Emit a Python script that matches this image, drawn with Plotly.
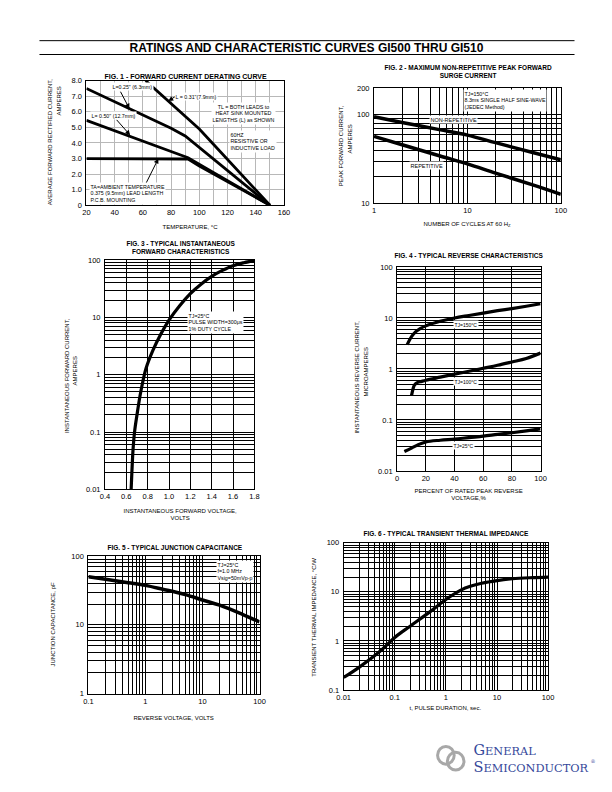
import numpy as np
import plotly.graph_objects as go

# ------------------------------------------------------------------ data
# Fig 1 - forward current derating curve (temperature degC, amperes)
fig1_temp_79 = [62, 70, 80, 90, 100, 110, 120, 130, 140, 150]
fig1_amp_79 = [8.0, 7.35, 6.55, 5.75, 4.9, 3.92, 2.94, 1.96, 0.98, 0.0]
fig1_temp_63 = [20, 40, 60, 80, 90, 100, 120, 140, 150]
fig1_amp_63 = [7.5, 6.65, 5.8, 4.95, 4.45, 3.72, 2.23, 0.74, 0.0]
fig1_temp_127 = [20, 40, 60, 80, 92, 100, 120, 140, 150]
fig1_amp_127 = [5.45, 4.8, 4.15, 3.45, 3.05, 2.62, 1.58, 0.53, 0.0]
fig1_temp_amb = [20, 40, 60, 80, 92, 100, 120, 140, 150]
fig1_amp_amb = [3.0, 3.0, 3.0, 3.0, 2.97, 2.52, 1.5, 0.5, 0.0]
fig1_xticks = ["20", "40", "60", "80", "100", "120", "140", "160"]
fig1_yticks = ["0", "1.0", "2.0", "3.0", "4.0", "5.0", "6.0", "7.0", "8.0"]

# Fig 2 - peak forward surge current (cycles, amperes)
fig2_cycles = [1, 2, 5, 10, 20, 50, 100]
fig2_nonrep = [95, 82, 68, 59, 48.5, 37.5, 31]
fig2_rep = [57, 46, 34.5, 28, 22, 16.2, 12.7]
fig2_xticks = ["1", "10", "100"]
fig2_yticks = ["10", "100", "200"]

# Fig 3 - instantaneous forward characteristics (volts, amperes)
fig3_volts = [0.645, 0.652, 0.663, 0.677, 0.70, 0.735, 0.785, 0.85, 0.92, 1.0,
              1.1, 1.2, 1.3, 1.4, 1.5, 1.6, 1.7, 1.8]
fig3_amps = [0.01, 0.02, 0.05, 0.1, 0.2, 0.5, 1.3, 2.7, 5.0, 9.0,
             16, 26, 38, 52, 66, 80, 90, 98]
fig3_xticks = ["0.4", "0.6", "0.8", "1.0", "1.2", "1.4", "1.6", "1.8"]
fig3_yticks = ["0.01", "0.1", "1", "10", "100"]

# Fig 4 - reverse characteristics (% of rated voltage, microamperes)
fig4_pct150 = [7, 10, 13, 16, 20, 30, 40, 50, 60, 70, 80, 90, 100]
fig4_ir150 = [3.0, 4.3, 5.4, 6.2, 7.0, 8.6, 10.0, 11.2, 12.5, 13.9, 15.3, 17.0, 19.0]
fig4_pct100 = [10, 11, 12, 14, 17, 20, 30, 40, 50, 60, 70, 80, 90, 100]
fig4_ir100 = [0.30, 0.40, 0.48, 0.54, 0.57, 0.60, 0.69, 0.79, 0.90, 1.03, 1.18, 1.37, 1.6, 2.05]
fig4_pct25 = [5, 10, 15, 20, 30, 40, 50, 60, 70, 80, 90, 100]
fig4_ir25 = [0.024, 0.028, 0.033, 0.037, 0.040, 0.042, 0.045, 0.048, 0.052, 0.056, 0.061, 0.067]
fig4_xticks = ["0", "20", "40", "60", "80", "100"]
fig4_yticks = ["0.01", "0.1", "1", "10", "100"]

# Fig 5 - junction capacitance (volts, pF)
fig5_vr = [0.1, 0.2, 0.5, 1, 2, 5, 10, 20, 50, 100]
fig5_cj = [50, 46, 41, 37.5, 33, 27.5, 23, 19.3, 14.2, 11]
fig5_xticks = ["0.1", "1", "10", "100"]
fig5_yticks = ["1", "10", "100"]

# Fig 6 - transient thermal impedance (sec, degC/W)
fig6_t = [0.01, 0.02, 0.05, 0.1, 0.2, 0.5, 1, 2, 3, 5, 10, 20, 50, 100]
fig6_z = [0.18, 0.29, 0.6, 1.18, 2.0, 4.0, 7.0, 11, 13, 15, 17, 18.5, 19.5, 20]
fig6_xticks = ["0.01", "0.1", "1", "10", "100"]
fig6_yticks = ["0.1", "1", "10", "100"]

# ------------------------------------------------------------------ helpers
# The page body has an 8px margin, so the figure is drawn 16px smaller and
# every page-pixel position is shifted by that margin.
PAGE_W, PAGE_H = 612, 792
OFF = 8
W, H = PAGE_W - 2 * OFF, PAGE_H - 2 * OFF
FONT = "Liberation Sans"


def fx(px):
    return (px - OFF) / W


def fy(py):
    return 1 - (py - OFF) / H


def lin_grid(lo, hi, step):
    n = int(round((hi - lo) / step))
    return [round(lo + i * step, 6) for i in range(n + 1)]


def log_grid(lo, hi):
    vals = []
    e = int(np.floor(np.log10(lo) + 1e-9))
    while 10.0 ** e <= hi * 1.0001:
        for m in range(1, 10):
            v = float(f"{m}e{e}")
            if lo * 0.9999 <= v <= hi * 1.0001:
                vals.append(v)
        e += 1
    return vals


def texts_for(vals, labels):
    out = []
    for v in vals:
        t = ""
        for lab in labels:
            if abs(v - float(lab)) < 1e-9 * max(1.0, abs(v)):
                t = lab
        out.append(t)
    return out


def axis(lo_px, hi_px, rng, kind, gridvals, labels, anchor, is_x,
         gridcolor="black", gridwidth=0.7):
    dom = [fx(lo_px), fx(hi_px)] if is_x else [fy(hi_px), fy(lo_px)]
    d = dict(domain=dom, range=rng, type=kind, tickmode="array",
             tickvals=gridvals, ticktext=texts_for(gridvals, labels),
             showgrid=True, gridcolor=gridcolor, gridwidth=gridwidth,
             showline=True, mirror=True, linecolor="black", linewidth=1,
             ticks="", zeroline=False, anchor=anchor, fixedrange=True,
             tickfont=dict(size=7.5, family=FONT, color="black"))
    if not is_x:
        d["ticklabelstandoff"] = 2
    return d


annotations = []


def txt(px, py, text, size=5.5, bold=False, xanchor="center", align="center",
        bg=None, angle=0, family=FONT, color="black"):
    if bold:
        text = "<b>" + text.replace("<br>", "</b><br><b>") + "</b>"
    a = dict(x=fx(px), y=fy(py), xref="paper", yref="paper", text=text,
             showarrow=False, xanchor=xanchor, yanchor="middle", align=align,
             textangle=angle, font=dict(size=size, family=family, color=color),
             borderpad=0.5)
    if bg:
        a["bgcolor"] = bg
    annotations.append(a)


def arrow(xd, yd, ax, ay, xref="x", yref="y"):
    annotations.append(dict(x=xd, y=yd, xref=xref, yref=yref, ax=ax, ay=ay,
                            axref="pixel", ayref="pixel", text=" ",
                            font=dict(size=1),
                            showarrow=True, arrowhead=2, arrowsize=1.0,
                            arrowwidth=1, arrowcolor="black", standoff=0))


fig = go.Figure()


def curve(x, y, xa, ya, width=3.2, shape="spline"):
    fig.add_trace(go.Scatter(x=x, y=y, xaxis=xa, yaxis=ya, mode="lines",
                             line=dict(color="black", width=width, shape=shape),
                             hoverinfo="skip"))


# ------------------------------------------------------------------ traces
curve(fig1_temp_79, fig1_amp_79, "x", "y", 2.8, "linear")
curve(fig1_temp_63, fig1_amp_63, "x", "y", 2.8, "linear")
curve(fig1_temp_127, fig1_amp_127, "x", "y", 2.8, "linear")
curve(fig1_temp_amb, fig1_amp_amb, "x", "y", 2.8, "linear")

curve(fig2_cycles, fig2_nonrep, "x2", "y2", 3.5)
curve(fig2_cycles, fig2_rep, "x2", "y2", 3.5)

curve(fig3_volts, fig3_amps, "x3", "y3", 3.2)

curve(fig4_pct150, fig4_ir150, "x4", "y4", 3.2)
curve(fig4_pct100, fig4_ir100, "x4", "y4", 3.2)
curve(fig4_pct25, fig4_ir25, "x4", "y4", 3.2)

curve(fig5_vr, fig5_cj, "x5", "y5", 3.5)

curve(fig6_t, fig6_z, "x6", "y6", 3.2)

layout = dict(width=W, height=H, margin=dict(l=0, r=0, t=0, b=0),
              paper_bgcolor="white", plot_bgcolor="white", showlegend=False,
              font=dict(family=FONT, color="black"))

# axes (page-pixel positions of each plot frame)
layout["xaxis"] = axis(81, 283, [20, 160], "linear", lin_grid(20, 160, 10),
                       fig1_xticks, "y", True, gridcolor="#b8b8b8", gridwidth=0.5)
layout["yaxis"] = axis(77.5, 203.5, [0, 8], "linear", lin_grid(0, 8, 1),
                       fig1_yticks, "x", False, gridcolor="#b8b8b8", gridwidth=0.5)

layout["xaxis2"] = axis(375, 566, [0, 2], "log", log_grid(1, 100),
                        fig2_xticks, "y2", True)
layout["yaxis2"] = axis(85, 201.7, [1, np.log10(200)], "log", log_grid(10, 200),
                        fig2_yticks, "x2", False)

layout["xaxis3"] = axis(100, 252.7, [0.4, 1.8], "linear", lin_grid(0.4, 1.8, 0.2),
                        fig3_xticks, "y3", True)
layout["yaxis3"] = axis(259, 491, [-2, 2], "log", log_grid(0.01, 100),
                        fig3_yticks, "x3", False)

layout["xaxis4"] = axis(398.7, 545.3, [0, 100], "linear", lin_grid(0, 100, 20),
                        fig4_xticks, "y4", True)
layout["yaxis4"] = axis(266, 472.3, [-2, 2], "log", log_grid(0.01, 100),
                        fig4_yticks, "x4", False)

layout["xaxis5"] = axis(83, 258, [-1, 2], "log", log_grid(0.1, 100),
                        fig5_xticks, "y5", True)
layout["yaxis5"] = axis(558.5, 697.5, [0, 2], "log", log_grid(1, 100),
                        fig5_yticks, "x5", False)

layout["xaxis6"] = axis(344, 553, [-2, 2], "log", log_grid(0.01, 100),
                        fig6_xticks, "y6", True)
layout["yaxis6"] = axis(545, 694, [-1, 2], "log", log_grid(0.1, 100),
                        fig6_yticks, "x6", False)

# ------------------------------------------------------------------ header
txt(306, 44, "RATINGS AND CHARACTERISTIC CURVES GI500 THRU GI510", size=12, bold=True)
shapes = [
    dict(type="line", xref="paper", yref="paper", x0=fx(33), x1=fx(580),
         y0=fy(37), y1=fy(37), line=dict(color="black", width=1)),
    dict(type="line", xref="paper", yref="paper", x0=fx(33), x1=fx(580),
         y0=fy(51), y1=fy(51), line=dict(color="black", width=1)),
]

# ------------------------------------------------------------------ Fig 1 text
txt(183, 73, "FIG. 1 - FORWARD CURRENT DERATING CURVE", size=7, bold=True)
txt(44, 139, "AVERAGE FORWARD RECTIFIED CURRENT,", size=6, angle=-90)
txt(53, 98, "AMPERES", size=6, angle=-90)
txt(187, 225, "TEMPERATURE, °C", size=6)
txt(106, 83.5, "L=0.25\" (6.3mm)", size=5.3, xanchor="left", bg="white")
txt(171, 93, "L = 0.31\"(7.9mm)", size=5.3, xanchor="left", bg="white")
txt(242, 111, "TL = BOTH LEADS to<br>HEAT SINK MOUNTED<br>LENGTHS (L) as SHOWN",
    size=5.3, bg="white")
txt(227, 139, "60HZ<br>RESISTIVE OR<br>INDUCTIVE LOAD", size=5.3,
    xanchor="left", align="left", bg="white")
txt(85, 113, "L= 0.50\" (12.7mm)", size=5.3, xanchor="left", bg="white")
txt(84, 191.5, "TA=AMBIENT TEMPERATURE<br>0.375 (9.5mm) LEAD LENGTH<br>P.C.B. MOUNTING",
    size=5.3, xanchor="left", align="left", bg="white")
arrow(50.5, 6.2, -10, -19)
arrow(78, 6.7, 8, -5)
arrow(51, 4.5, -15, -17)
arrow(71, 3.0, -13, 26)

# ------------------------------------------------------------------ Fig 2 text
txt(471, 68, "FIG. 2 - MAXIMUM NON-REPETITIVE PEAK FORWARD<br>SURGE CURRENT", size=6.5, bold=True)
txt(341.5, 143, "PEAK FORWARD CURRENT,", size=6, angle=-90)
txt(350, 137, "AMPERES", size=6, angle=-90)
txt(470, 222, "NUMBER OF CYCLES AT 60 H<sub>Z</sub>", size=6)
txt(466, 97.5, "TJ=150°C<br>8.3ms SINGLE HALF SINE-WAVE<br>(JEDEC Method)", size=5.3,
    xanchor="left", align="left", bg="white")
txt(456.5, 117, "NON-REPETITIVE", size=5.5, bg="white")
txt(429, 163.5, "REPETITIVE", size=5.5, bg="white")

# ------------------------------------------------------------------ Fig 3 text
txt(178, 245.5, "FIG. 3 - TYPICAL INSTANTANEOUS<br>FORWARD CHARACTERISTICS", size=6.5, bold=True)
txt(61, 376, "INSTANTANEOUS FORWARD CURRENT,", size=6, angle=-90)
txt(69.5, 371, "AMPERES", size=6, angle=-90)
txt(177, 516, "INSTANTANEOUS FORWARD VOLTAGE,<br>VOLTS", size=6)
txt(184, 322, "TJ=25°C<br>PULSE WIDTH=300μs<br>1% DUTY CYCLE", size=5.3,
    xanchor="left", align="left", bg="white")

# ------------------------------------------------------------------ Fig 4 text
txt(472, 254, "FIG. 4 - TYPICAL REVERSE CHARACTERISTICS", size=6.5, bold=True)
txt(358, 377, "INSTANTANEOUS REVERSE CURRENT,", size=6, angle=-90)
txt(367, 372, "MICROAMPERES", size=6, angle=-90)
txt(472, 496.5, "PERCENT OF RATED PEAK REVERSE<br>VOLTAGE,%", size=6)
txt(469, 324, "TJ=150°C", size=5, bg="white")
txt(469, 382, "TJ=100°C", size=5, bg="white")
txt(466, 447, "TJ=25°C", size=5, bg="white")

# ------------------------------------------------------------------ Fig 5 text
txt(172, 549, "FIG. 5 - TYPICAL JUNCTION CAPACITANCE", size=6.5, bold=True)
txt(47, 628, "JUNCTION CAPACITANCE, pF", size=6, angle=-90)
txt(170, 722, "REVERSE VOLTAGE, VOLTS", size=6)
txt(213, 574.5, "TJ=25°C<br>f=1.0 MHz<br>Vsig=50mVp-p", size=5.3,
    xanchor="left", align="left", bg="white")

# ------------------------------------------------------------------ Fig 6 text
txt(449, 535, "FIG. 6 - TYPICAL TRANSIENT THERMAL IMPEDANCE", size=6.5, bold=True)
txt(314, 620, "TRANSIENT THERMAL IMPEDANCE, °C/W", size=6, angle=-90)
txt(448, 712, "t, PULSE DURATION, sec.", size=6)

# ------------------------------------------------------------------ logo
BLUE = "#34479a"
txt(475, 754.5, "<span style='font-size:14.5px'>G</span>ENERAL", size=11.3,
    xanchor="left", align="left", family="DejaVu Serif", color=BLUE)
txt(475, 771.5, "<span style='font-size:14.5px'>S</span>EMICONDUCTOR", size=11.3,
    xanchor="left", align="left", family="DejaVu Serif", color=BLUE)
txt(599, 765, "®", size=5, family="DejaVu Serif", color=BLUE)
shapes += [
    dict(type="circle", xref="paper", yref="paper", x0=fx(440), x1=fx(457),
         y0=fy(769), y1=fy(751), line=dict(color="#a8a8a8", width=3)),
    dict(type="circle", xref="paper", yref="paper", x0=fx(450), x1=fx(467),
         y0=fy(775), y1=fy(757), line=dict(color="#a8a8a8", width=3)),
]

layout["annotations"] = annotations
layout["shapes"] = shapes
fig.update_layout(**layout)
fig.write_html("out.html")
